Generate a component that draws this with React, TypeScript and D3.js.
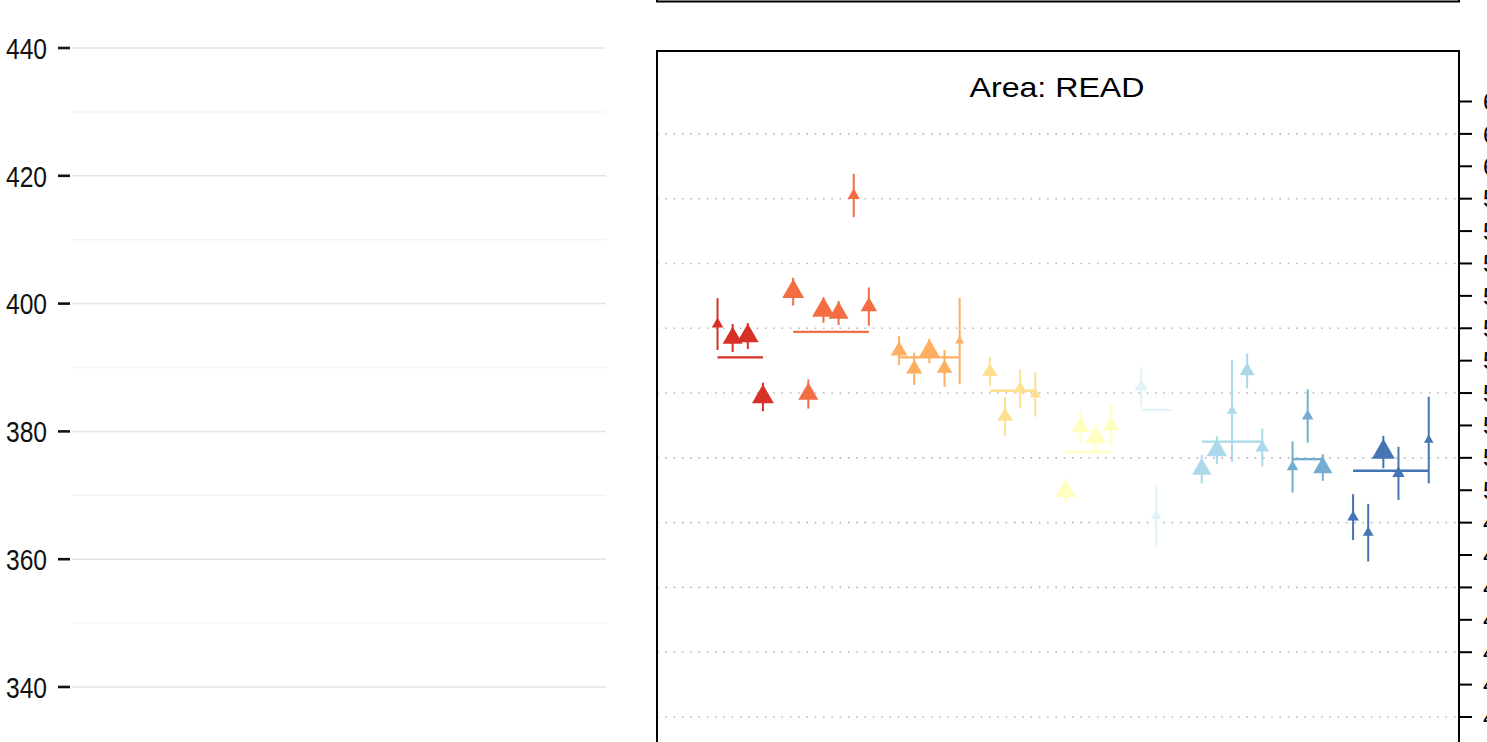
import React from "react";
import * as d3 from "d3";

// ---------- data ----------
const leftTicks = [340, 360, 380, 400, 420, 440];
const leftMinor = [330, 350, 370, 390, 410, 430];

const rightTicks = [620, 610, 600, 590, 580, 570, 560, 550, 540, 530, 520, 510, 500, 490, 480, 470, 460, 450, 440, 430];
const rightGrid = [610, 590, 570, 550, 530, 510, 490, 470, 450, 430];

const panelTitle = "Area: READ";

const slotIndex = [0, 1, 2, 3, 5, 6, 7, 8, 9, 10, 12, 13, 14, 15, 16, 18, 19, 20, 21, 23, 24, 25, 26, 28, 29, 32, 33, 34, 35, 36, 38, 39, 40, 42, 43, 44, 45, 47];
const groupOf = [0, 0, 0, 0, 1, 1, 1, 1, 1, 1, 2, 2, 2, 2, 2, 3, 3, 3, 3, 4, 4, 4, 4, 5, 5, 6, 6, 6, 6, 6, 7, 7, 7, 8, 8, 8, 8, 8];
const scores = [
  551.3, 547.0, 547.6, 528.8,
  561.3, 529.7, 555.6, 554.7, 591.0, 556.7,
  543.1, 537.5, 543.0, 537.6, 546.1,
  536.6, 522.8, 531.3, 529.6,
  499.7, 519.6, 516.3, 519.9,
  532.0, 492.1,
  506.5, 512.3, 524.5, 536.8, 513.2,
  507.2, 522.9, 507.0,
  491.7, 486.9, 511.8, 505.2, 515.5,
];
const halfCI = [
  8.0, 4.3, 4.0, 4.4,
  4.3, 4.5, 3.9, 3.7, 6.7, 5.9,
  4.5, 5.0, 3.8, 5.7, 13.3,
  4.4, 6.1, 6.0, 6.9,
  3.7, 4.6, 4.4, 6.4,
  6.1, 9.1,
  4.4, 4.3, 15.7, 5.4, 5.8,
  7.9, 8.2, 4.1,
  7.1, 8.9, 5.0, 8.2, 13.4,
];
const weights = [
  10, 17.3, 18.7, 19,
  19, 17.3, 19.7, 17.3, 10.7, 14.3,
  14.3, 14, 18, 13.3, 7.7,
  13.3, 13.3, 11.7, 9.7,
  18, 15.7, 18.3, 14,
  11.7, 9,
  16.7, 17.7, 9, 13, 11.7,
  10, 10, 16.7,
  10, 9.3, 20, 10.7, 8.3,
];
const groupStart = [0, 5, 12, 18, 23, 28, 32, 38, 42];
const groupEnd = [3, 10, 16, 21, 26, 30, 36, 40, 47];
const groupMeans = [541.0, 548.9, 541.0, 530.7, 511.8, 524.8, 515.0, 509.6, 506.0];

// ---------- layout ----------
const W = 1487;
const H = 742;
const FONT = "'Liberation Sans', Arial, Helvetica, sans-serif";

const leftY = d3.scaleLinear().domain([340, 440]).range([687, 48]);
const rightX = d3.scaleLinear().domain([-4, 49]).range([657, 1459]);
const rightY = d3.scaleLinear().domain([430, 620]).range([717, 101.5]);
const sizeScale = d3.scaleLinear().domain([0, 20]).range([0, 20]);
const colors = d3.schemeRdYlBu[9];

function triangle(cx: number, cy: number, h: number) {
  const r = h / 1.5;
  const hw = (r * Math.sqrt(3)) / 2;
  const p = d3.path();
  p.moveTo(cx, cy - r);
  p.lineTo(cx + hw, cy + r / 2);
  p.lineTo(cx - hw, cy + r / 2);
  p.closePath();
  return p.toString();
}

export default function App() {
  const pL = 657, pR = 1459, pT = 51;
  return (
    <svg
      width={W}
      height={H}
      style={{ position: "absolute", left: 0, top: 0, background: "#fff" }}
      fontFamily={FONT}
    >
      <rect x={0} y={0} width={W} height={H} fill="#fff" />
      {/* left panel */}
      {leftMinor.map((v) => (
        <line key={"lm" + v} x1={72} x2={606} y1={leftY(v)} y2={leftY(v)} stroke="#f4f4f4" strokeWidth={1.5} />
      ))}
      {leftTicks.map((v) => (
        <g key={"lt" + v}>
          <line x1={72} x2={606} y1={leftY(v)} y2={leftY(v)} stroke="#e4e4e4" strokeWidth={1.5} />
          <line x1={58} x2={70} y1={leftY(v)} y2={leftY(v)} stroke="#111" strokeWidth={2.6} />
          <text
            x={47}
            y={leftY(v)}
            dy="0.37em"
            textAnchor="end"
            fontSize={29}
            textLength={41}
            lengthAdjust="spacingAndGlyphs"
            fill="#111"
          >
            {v}
          </text>
        </g>
      ))}

      {/* top box (previous panel bottom) */}
      <path d={`M${pL},-10 L${pL},1.5 L${pR},1.5 L${pR},-10`} fill="none" stroke="#000" strokeWidth={2} />

      {/* right panel grid */}
      {rightGrid.map((v) => (
        <line
          key={"rg" + v}
          x1={pL}
          x2={pR}
          y1={rightY(v)}
          y2={rightY(v)}
          stroke="#b8b8b8"
          strokeWidth={1.6}
          strokeDasharray="1.6 6.7"
        />
      ))}

      {/* title */}
      <text
        x={(pL + pR) / 2 - 1}
        y={97}
        textAnchor="middle"
        fontSize={28.5}
        textLength={175}
        lengthAdjust="spacingAndGlyphs"
        fill="#000"
      >
        {panelTitle}
      </text>

      {/* mean lines */}
      {groupMeans.map((m, g) => (
        <line
          key={"gm" + g}
          x1={rightX(groupStart[g])}
          x2={rightX(groupEnd[g])}
          y1={rightY(m)}
          y2={rightY(m)}
          stroke={colors[g]}
          strokeWidth={2.4}
        />
      ))}

      {/* error bars and triangles */}
      {scores.map((s, i) => {
        const cx = rightX(slotIndex[i]);
        const c = colors[groupOf[i]];
        return (
          <g key={"pt" + i}>
            <line
              x1={cx}
              x2={cx}
              y1={rightY(s + halfCI[i])}
              y2={rightY(s - halfCI[i])}
              stroke={c}
              strokeWidth={2}
            />
            <path d={triangle(cx, rightY(s), sizeScale(weights[i]))} fill={c} />
          </g>
        );
      })}

      {/* right panel frame */}
      <rect x={pL} y={pT} width={pR - pL} height={H + 20 - pT} fill="none" stroke="#000" strokeWidth={2} />

      {/* right axis */}
      {rightTicks.map((v) => (
        <g key={"rt" + v}>
          <line x1={pR} x2={pR + 13} y1={rightY(v)} y2={rightY(v)} stroke="#000" strokeWidth={2} />
          <text x={pR + 24} y={rightY(v)} dy="0.36em" fontSize={24} fill="#000">
            {v}
          </text>
        </g>
      ))}
    </svg>
  );
}
